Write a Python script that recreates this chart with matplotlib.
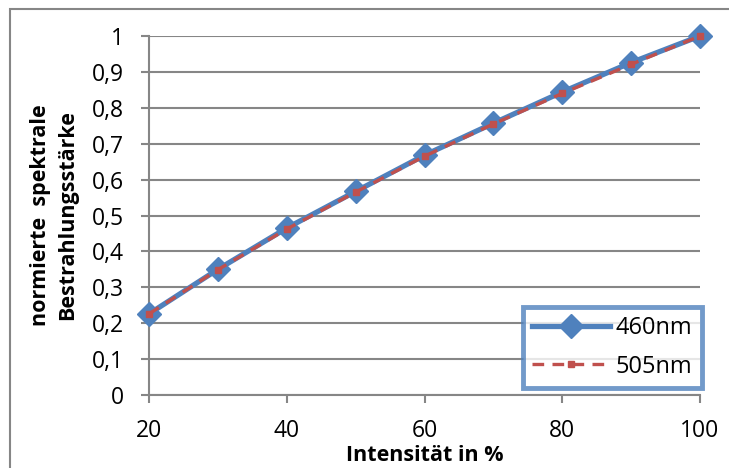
import numpy as np
import matplotlib.pyplot as plt
import matplotlib.patches as patches

# Werte
intensitaet = [20, 30, 40, 50, 60, 70, 80, 90, 100]
werte_460 = [0.226, 0.350, 0.465, 0.567, 0.668, 0.757, 0.844, 0.926, 1.0]
werte_505 = [0.226, 0.349, 0.462, 0.565, 0.665, 0.755, 0.840, 0.921, 1.0]
y_ticks = [0, 0.1, 0.2, 0.3, 0.4, 0.5, 0.6, 0.7, 0.8, 0.9, 1.0]
x_ticks = [20, 40, 60, 80, 100]

blau = '#4F81BD'
rot = '#C0504D'
grau = '#868686'

plt.rcParams['font.family'] = ['Open Sans', 'DejaVu Sans']

fig = plt.figure(figsize=(7.29, 4.68), dpi=100)
ax = fig.add_axes([149 / 729, 1 - 395 / 468, 551 / 729, 359 / 468])

# aeusserer Rahmen (rechts und unten abgeschnitten)
fig.add_artist(patches.Rectangle((10 / 729, -0.1), 1.2, 1 - 9 / 468 + 0.1,
                                 transform=fig.transFigure, fill=False,
                                 edgecolor=grau, linewidth=1.5))

ax.plot(intensitaet, werte_460, color=blau, linewidth=3.8, marker='D',
        markersize=12, label='460nm', zorder=3, clip_on=False)
ax.plot(intensitaet, werte_505, color=rot, linewidth=2.4, linestyle=(0, (3.5, 2.5)),
        marker='s', markersize=5, label='505nm', zorder=4, clip_on=False)

ax.set_xlim(20, 100)
ax.set_ylim(0, 1)
ax.set_xticks(x_ticks)
ax.set_yticks(y_ticks)
ax.set_yticklabels([('%g' % v).replace('.', ',') for v in y_ticks])
ax.tick_params(axis='both', labelsize=16.5, color=grau, width=1.5, length=6)
ax.tick_params(axis='y', pad=12)
ax.tick_params(axis='x', pad=11)

ax.grid(axis='y', color=grau, linewidth=1.5)
ax.set_axisbelow(True)
for s in ['top', 'right']:
    ax.spines[s].set_visible(False)
for s in ['left', 'bottom']:
    ax.spines[s].set_color(grau)
    ax.spines[s].set_linewidth(1.5)

ax.set_xlabel('Intensität in %', fontsize=15.5, fontweight='bold', labelpad=2)
ax.set_ylabel('normierte  spektrale\nBestrahlungsstärke', fontsize=15.5,
              fontweight='bold', labelpad=10, linespacing=1.4)

leg = ax.legend(loc='lower right', bbox_to_anchor=(1.0036, 0.0195), fontsize=17,
                frameon=True, fancybox=False, handlelength=3.3,
                borderpad=0.4, labelspacing=0.6, handletextpad=0.25,
                borderaxespad=0)
leg.get_frame().set_edgecolor(blau)
leg.get_frame().set_linewidth(3.5)

fig.savefig('out.png', dpi=100)
